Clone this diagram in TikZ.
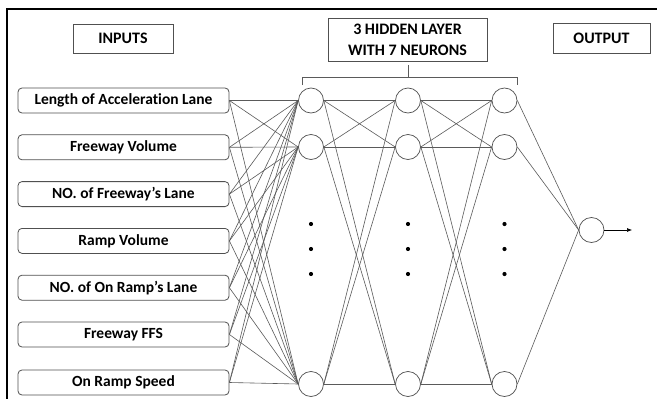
\documentclass[tikz,border=0pt]{standalone}
\usepackage{fontspec}
\setmainfont{Carlito}[Ligatures={NoCommon,NoContextual}]
\usetikzlibrary{arrows.meta}
\definecolor{edge}{HTML}{5A5A5A}
\definecolor{boxc}{HTML}{505050}
\newcommand{\apos}{\char39\relax}
\begin{document}
\begin{tikzpicture}[x=1pt,y=-1pt,
  inbox/.style={draw=boxc,line width=0.8pt,rounded corners=4pt,minimum width=211pt,minimum height=25pt,inner sep=0pt,font=\bfseries\fontsize{15.5}{17}\selectfont},
  headbox/.style={draw=boxc,line width=0.8pt,inner sep=0pt,font=\bfseries\fontsize{16}{18}\selectfont,align=center},
  neuron/.style={draw=boxc,line width=0.7pt,circle,minimum size=25pt,inner sep=0pt},
  conn/.style={draw=edge,line width=0.6pt},
  dotn/.style={fill=black,circle,minimum size=4.2pt,inner sep=0pt}]
\useasboundingbox (0,0) rectangle (657,399);
\fill[white] (0,0) rectangle (657,399);
% frame
\draw[line width=1.6pt] (7,399) -- (7,9) -- (657,9);
% header boxes
\node[headbox,minimum width=100pt,minimum height=29pt] (hin) at (123,38.5) {INPUTS};
\node[headbox,minimum width=159pt,minimum height=43pt,font=\bfseries\fontsize{16}{21}\selectfont] (hhid) at (407.5,39.5) {3 HIDDEN LAYER\\WITH 7 NEURONS};
\node[headbox,minimum width=97pt,minimum height=30pt] (hout) at (601.5,38) {OUTPUT};
% brace
\coordinate (bl) at (302,85);
\coordinate (br) at (517,85);
\coordinate (bt) at (408,65);
\draw[conn,line width=0.8pt] (bl) -- ++(0,-8) -| (br);
\draw[conn,line width=0.8pt] (408,77) -- (bt);
% inputs
\node[inbox] (i1) at (123.5,100.5) {Length of Acceleration Lane};
\node[inbox] (i2) at (123.5,147.3) {Freeway Volume};
\node[inbox] (i3) at (123.5,194.1) {NO. of Freeway\apos s Lane};
\node[inbox] (i4) at (123.5,240.9) {Ramp Volume};
\node[inbox] (i5) at (123.5,287.7) {NO. of On Ramp\apos s Lane};
\node[inbox] (i6) at (123.5,334.5) {Freeway FFS};
\node[inbox] (i7) at (123.5,382.5) {On Ramp Speed};
% neurons
\foreach \L/\x in {a/311,b/408,c/504.5}{
  \node[neuron] (\L1) at (\x,100.5) {};
  \node[neuron] (\L2) at (\x,147) {};
  \node[neuron] (\L7) at (\x,384) {};
  \node[dotn] (\L d1) at (\x,224) {};
  \node[dotn] (\L d2) at (\x,249) {};
  \node[dotn] (\L d3) at (\x,274) {};
}
\node[neuron] (o) at (591.5,230) {};
\coordinate (oend) at (632,230);
% connections
\foreach \i in {1,...,7}{
  \foreach \j in {1,2,7}{
    \draw[conn] (i\i.east) -- (a\j.west);
  }
}
\foreach \i in {1,2,7}{
  \foreach \j in {1,2,7}{
    \draw[conn] (a\i.east) -- (b\j.west);
    \draw[conn] (b\i.east) -- (c\j.west);
  }
  \draw[conn] (c\i.east) -- (o.west);
}
\draw[conn,-{Latex[length=5pt,width=4pt]},draw=black] (o.east) -- (oend);
\end{tikzpicture}
\end{document}
